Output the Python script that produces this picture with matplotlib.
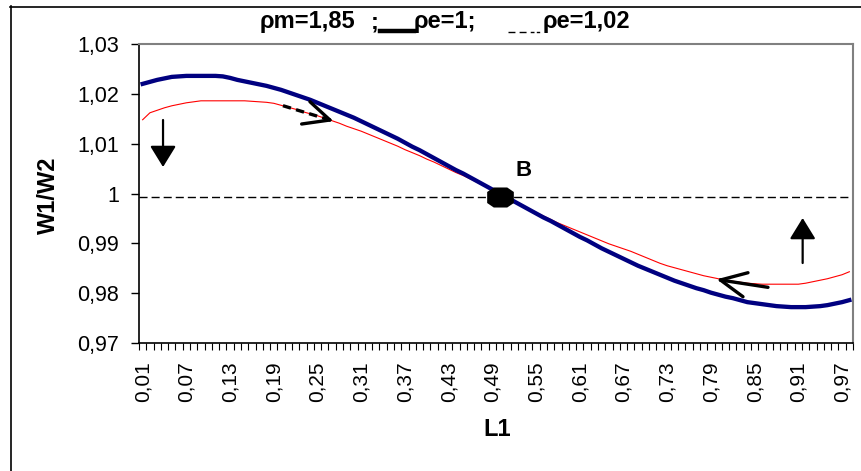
import matplotlib
matplotlib.use("Agg")
import matplotlib.pyplot as plt
from matplotlib.lines import Line2D
from matplotlib.path import Path
import numpy as np

plt.rcParams['font.family'] = ['Liberation Sans', 'DejaVu Sans']

# ---------------- data ----------------
L1 = [i / 100 for i in range(1, 99)]  # categories 0.01 .. 0.98

# rho_e = 1 (thick navy line)
w_rho_e1 = [
    1.0220, 1.0224, 1.0228, 1.0231, 1.0234, 1.0235, 1.0236, 1.0236, 1.0236, 1.0236,
    1.0236, 1.0235, 1.0232, 1.0228, 1.0225, 1.0222, 1.0219, 1.0216, 1.0212, 1.0208,
    1.0203, 1.0198, 1.0193, 1.0188, 1.0182, 1.0176, 1.0170, 1.0164, 1.0158, 1.0152,
    1.0145, 1.0138, 1.0131, 1.0124, 1.0117, 1.0110, 1.0102, 1.0094, 1.0087, 1.0079,
    1.0071, 1.0063, 1.0055, 1.0047, 1.0040, 1.0032, 1.0024, 1.0016, 1.0008, 1.0000,
    0.9992, 0.9984, 0.9976, 0.9968, 0.9960, 0.9952, 0.9945, 0.9937, 0.9929, 0.9921,
    0.9913, 0.9906, 0.9898, 0.9890, 0.9883, 0.9876, 0.9869, 0.9862, 0.9855, 0.9849,
    0.9843, 0.9837, 0.9831, 0.9825, 0.9820, 0.9815, 0.9810, 0.9806, 0.9801, 0.9797,
    0.9793, 0.9790, 0.9786, 0.9782, 0.9780, 0.9778, 0.9776, 0.9774, 0.9773, 0.9772,
    0.9772, 0.9772, 0.9773, 0.9774, 0.9776, 0.9779, 0.9782, 0.9786,
]

# rho_e = 1.02 (thin red line)
w_rho_e102 = [
    1.0148, 1.0162, 1.0167, 1.0172, 1.0176, 1.0179, 1.0182, 1.0184, 1.0186, 1.0186,
    1.0186, 1.0186, 1.0186, 1.0186, 1.0186, 1.0185, 1.0184, 1.0183, 1.0181, 1.0177,
    1.0173, 1.0169, 1.0164, 1.0160, 1.0156, 1.0151, 1.0146, 1.0141, 1.0135, 1.0130,
    1.0125, 1.0119, 1.0113, 1.0107, 1.0101, 1.0095, 1.0088, 1.0082, 1.0076, 1.0069,
    1.0063, 1.0056, 1.0049, 1.0042, 1.0036, 1.0029, 1.0022, 1.0015, 1.0008, 1.0001,
    0.9993, 0.9985, 0.9977, 0.9969, 0.9962, 0.9955, 0.9948, 0.9941, 0.9935, 0.9929,
    0.9923, 0.9917, 0.9911, 0.9905, 0.9899, 0.9894, 0.9889, 0.9884, 0.9878, 0.9872,
    0.9866, 0.9860, 0.9855, 0.9851, 0.9847, 0.9843, 0.9839, 0.9835, 0.9832, 0.9829,
    0.9826, 0.9824, 0.9822, 0.9820, 0.9819, 0.9818, 0.9818, 0.9818, 0.9818, 0.9818,
    0.9818, 0.9820, 0.9823, 0.9826, 0.9829, 0.9833, 0.9837, 0.9843,
]

ref_level = 0.9992          # dashed horizontal line
point_B_L1 = 0.50
point_B_W = 0.9992

y_ticks = [0.97, 0.98, 0.99, 1.00, 1.01, 1.02, 1.03]
y_tick_labels = ["0,97", "0,98", "0,99", "1", "1,01", "1,02", "1,03"]
x_tick_labels = ["0,01", "0,07", "0,13", "0,19", "0,25", "0,31", "0,37", "0,43", "0,49",
                 "0,55", "0,61", "0,67", "0,73", "0,79", "0,85", "0,91", "0,97"]
x_label_step = 6

# ---------------- figure ----------------
W, H = 861, 471
fig = plt.figure(figsize=(W / 100, H / 100), dpi=100)

def fx(px):
    return px / W

def fy(py):
    return 1 - py / H

ax_l, ax_r, ax_t, ax_b = 139, 853, 44, 343
ax = fig.add_axes([fx(ax_l), fy(ax_b), (ax_r - ax_l) / W, (ax_b - ax_t) / H])

idx = np.arange(len(L1))
ax.plot(idx, w_rho_e102, color='#ff0000', lw=0.8, zorder=3)
ax.plot(idx, w_rho_e1, color='#000080', lw=3.1, zorder=4, solid_joinstyle='round')
ax.axhline(ref_level, color='black', lw=1.0, ls=(0, (5.8, 2.9)), zorder=2)

# octagon marker at B
oct_verts = [(-6.7, 10), (6.7, 10), (13.3, 5.5), (13.3, -5.5), (6.7, -10),
             (-6.7, -10), (-13.3, -5.5), (-13.3, 5.5), (-6.7, 10)]
oct_path = Path(oct_verts, closed=True)
iB = L1.index(point_B_L1)
ax.plot([iB], [point_B_W], marker=oct_path, markersize=19.2, color='black',
        markeredgewidth=0, ls='none', zorder=6)
ax.text(iB + 3.3, 1.0047, "B", fontsize=16, fontweight='bold', ha='center', va='center')

ax.set_xlim(-0.5, len(L1) - 0.5)
ax.set_ylim(0.97, 1.03)

# y axis
ax.set_yticks(y_ticks)
ax.set_yticklabels(y_tick_labels, fontsize=15.5)
ax.tick_params(axis='y', direction='out', length=6, width=1, pad=8.5, colors='black')

# x axis: ticks between categories, labels at every 6th category
ax.set_xticks(np.arange(-0.5, len(L1), 1.0))
ax.set_xticklabels([])
ax.tick_params(axis='x', which='major', direction='out', length=5, width=0.8)
ax.set_xticks(idx[::x_label_step], minor=True)
ax.set_xticklabels(x_tick_labels, minor=True, rotation=90, fontsize=15)
ax.tick_params(axis='x', which='minor', length=0, pad=13)

for s in ['top', 'right']:
    ax.spines[s].set_color('#808080')
    ax.spines[s].set_linewidth(1.5)
for s in ['left', 'bottom']:
    ax.spines[s].set_color('black')
    ax.spines[s].set_linewidth(1.2)

# axis titles
fig.text(fx(48), fy(195), "W1/W2", rotation=90, ha='center', va='center',
         fontsize=17, fontweight='bold')
fig.text(fx(497), fy(430), "L1", ha='center', va='center', fontsize=17, fontweight='bold')

# ---------------- arrows (annotations) ----------------
def to_data(px, py):
    i = (px - 142.6) / 7.29
    v = 1.03 - (py - 44) / 4983.0
    return i, v

# down arrow (left)
ax.annotate('', xy=to_data(163, 167), xytext=to_data(163, 120),
            arrowprops=dict(arrowstyle='-|>,head_length=1.3,head_width=0.8',
                            lw=1.6, color='black', shrinkA=0, shrinkB=0, mutation_scale=10))
# up arrow (right)
ax.annotate('', xy=to_data(803, 218), xytext=to_data(803, 263),
            arrowprops=dict(arrowstyle='-|>,head_length=1.3,head_width=0.8',
                            lw=1.6, color='black', shrinkA=0, shrinkB=0, mutation_scale=10))

# ">" arrow with dashed tail
tx, ty = zip(to_data(283, 105.7), to_data(330, 120))
ax.plot(tx, ty, color='black', lw=2.4, ls=(0, (2.5, 1.6)), zorder=7, solid_capstyle='butt')
for p in [(310, 101.7), (301.7, 124)]:
    sx, sy = zip(to_data(*p), to_data(330, 120))
    ax.plot(sx, sy, color='black', lw=2.4, zorder=7, solid_capstyle='round')

# "<" arrow
for p in [(748.3, 272.7), (743.3, 296.7), (768.3, 287.3)]:
    sx, sy = zip(to_data(*p), to_data(720.7, 280))
    ax.plot(sx, sy, color='black', lw=2.4, zorder=7, solid_capstyle='round')

# ---------------- title with inline legend keys ----------------
tsize = 17
base = fy(28)
fig.text(fx(260), base, "ρm=1,85", fontsize=tsize, fontweight='bold', va='baseline')
fig.text(fx(371), base, ";", fontsize=tsize, fontweight='bold', va='baseline')
fig.text(fx(414), base, "ρe=1;", fontsize=tsize, fontweight='bold', va='baseline')
fig.text(fx(543), base, "ρe=1,02", fontsize=tsize, fontweight='bold', va='baseline')
fig.add_artist(Line2D([fx(380), fx(414)], [fy(31), fy(31)], color='black', lw=3.2,
                      transform=fig.transFigure))
fig.add_artist(Line2D([fx(508), fx(534)], [fy(32), fy(32)], color='black', lw=1.0,
                      ls=(0, (5, 3)), transform=fig.transFigure))
fig.add_artist(Line2D([fx(537), fx(538.5)], [fy(32), fy(32)], color='black', lw=1.0,
                      transform=fig.transFigure))

# outer chart border (left and top visible)
fig.add_artist(Line2D([fx(10.5), fx(10.5)], [fy(6), fy(H + 5)], color='black', lw=1.2,
                      transform=fig.transFigure))
fig.add_artist(Line2D([fx(10), fx(W + 5)], [fy(6.5), fy(6.5)], color='black', lw=1.2,
                      transform=fig.transFigure))

fig.savefig("out.png", dpi=100)
